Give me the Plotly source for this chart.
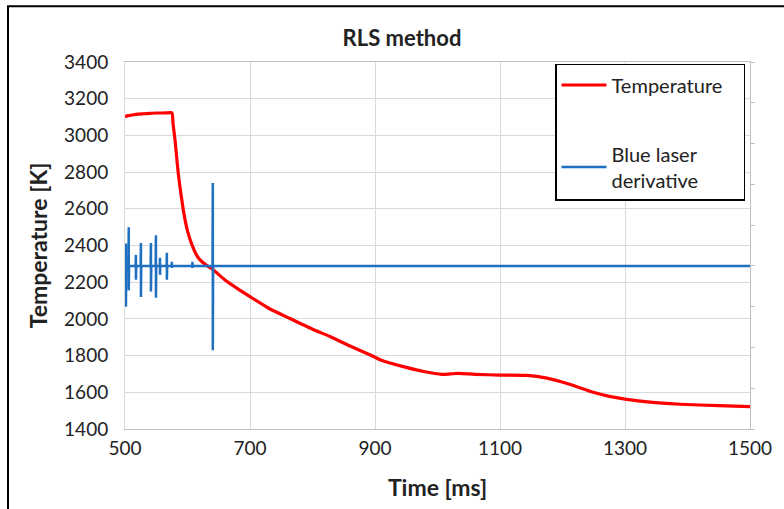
import plotly.graph_objects as go

# Temperature curve (ms, K)
temp_t = [500, 505, 510, 520, 530, 540, 550, 560, 570, 575, 577, 580, 585, 590, 595, 600,
          607, 615, 620, 630, 641, 660, 680, 700, 730, 764, 800, 828, 860, 897, 908, 950,
          980, 1007, 1020, 1033, 1060, 1100, 1143, 1175, 1210, 1249, 1275, 1300, 1340,
          1388, 1450, 1500]
temp_k = [3102, 3108, 3110, 3116, 3118, 3120, 3122, 3122, 3123, 3124, 3060, 2977, 2800,
          2670, 2560, 2480, 2405, 2345, 2322, 2293, 2268, 2212, 2165, 2121, 2058, 2002,
          1944, 1904, 1852, 1796, 1778, 1736, 1712, 1698, 1700, 1703, 1698, 1694, 1692,
          1677, 1645, 1600, 1578, 1563, 1546, 1535, 1527, 1522]

# Blue laser derivative (arbitrary units, secondary axis): spikes on a zero baseline
spike_t = [501.5, 506, 517.5, 525.5, 541.5, 549.5, 556, 567, 575, 608, 640.5]
spike_up = [0.55, 0.95, 0.27, 0.56, 0.56, 0.75, 0.2, 0.32, 0.1, 0.1, 2.03]
spike_dn = [-1.0, -0.6, -0.34, -0.76, -0.63, -0.78, -0.22, -0.34, -0.05, -0.05, -2.07]
deriv_start, deriv_end = 500, 1500

x_ticks = [500, 700, 900, 1100, 1300, 1500]
y_ticks = [1400, 1600, 1800, 2000, 2200, 2400, 2600, 2800, 3000, 3200, 3400]

blue_x = [deriv_start]
blue_y = [0]
for t, u, d in zip(spike_t, spike_up, spike_dn):
    blue_x += [t - 0.5, t, t, t + 0.5]
    blue_y += [0, u, d, 0]
blue_x.append(deriv_end)
blue_y.append(0)

FONT = "Lato"
TXT = "#222222"
GRID = "#d9d9d9"

fig = go.Figure()
fig.add_trace(go.Scatter(x=temp_t, y=temp_k, mode="lines", name="Temperature&nbsp;&nbsp;&nbsp;",
                         line=dict(color="#FF0000", width=3.2, shape="spline", smoothing=0.6),
                         legendgroup="a"))
fig.add_trace(go.Scatter(x=blue_x, y=blue_y, mode="lines", name="Blue laser<br>derivative",
                         line=dict(color="#1F70C1", width=2.5), yaxis="y2", legendgroup="b"))

fig.update_layout(
    width=784, height=509,
    margin=dict(l=125, r=34, t=62, b=78),
    paper_bgcolor="white", plot_bgcolor="white",
    font=dict(family=FONT, color=TXT, size=19),
    title=dict(text="<b>RLS method</b>", x=402/784, xref="container", xanchor="center",
               y=1-38/509, yref="container", yanchor="middle",
               font=dict(family=FONT, size=22, color=TXT)),
    xaxis=dict(range=[500, 1500], tickvals=x_ticks, showgrid=True, gridcolor=GRID, gridwidth=1,
               showline=True, linecolor="#bfbfbf", linewidth=1, mirror=True, zeroline=False,
               ticks="", tickfont=dict(size=19), ticklabelstandoff=2,
               title=dict(text="<b>Time [ms]</b>", font=dict(size=23), standoff=22)),
    yaxis=dict(range=[1400, 3400], tickvals=y_ticks, showgrid=True, gridcolor=GRID, gridwidth=1,
               showline=True, linecolor=GRID, linewidth=1, mirror=True, zeroline=False,
               ticks="", tickfont=dict(size=19), ticklabelstandoff=12,
               title=dict(text="<b>Temperature [K]</b>", font=dict(size=23), standoff=10)),
    yaxis2=dict(overlaying="y", side="right", range=[-4, 5], dtick=1, showticklabels=False,
                showgrid=False, zeroline=False, showline=True, linecolor="#bfbfbf", linewidth=1,
                ticks="outside", ticklen=4, tickcolor="#bfbfbf"),
    legend=dict(x=(555-125)/625, y=(431-64)/369, xanchor="left", yanchor="top",
                bgcolor="white", bordercolor="black", borderwidth=1.5,
                font=dict(size=20, family=FONT, color=TXT), tracegroupgap=40,
                itemwidth=45),
    showlegend=True,
    shapes=[dict(type="rect", xref="paper", yref="paper",
                 x0=(8-125)/625, x1=(792-125)/625, y0=(431-515)/369, y1=(431-6)/369,
                 line=dict(color="black", width=2), fillcolor="rgba(0,0,0,0)", layer="below")],
)

fig.write_html("out.html")
